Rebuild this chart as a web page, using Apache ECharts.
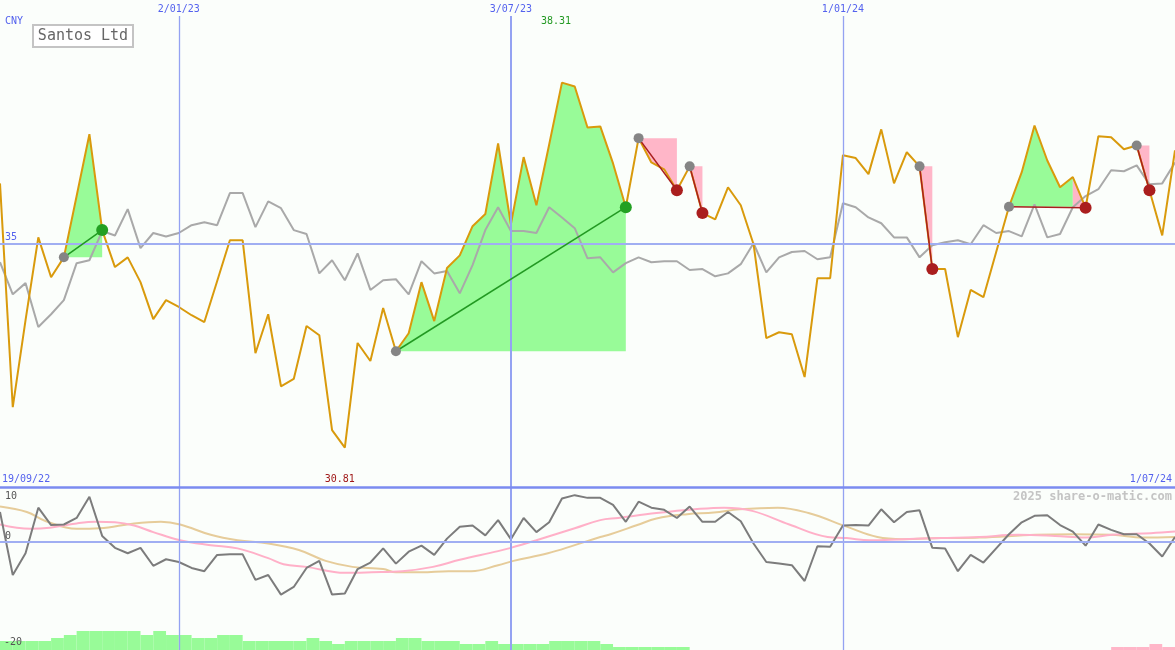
<!DOCTYPE html>
<html><head><meta charset="utf-8">
<script src="https://cdn.jsdelivr.net/npm/echarts@6/dist/echarts.min.js"></script>
<style>html,body{margin:0;padding:0;background:#fbfefb;}#c{width:1175px;height:650px;}</style>
</head><body><div id="c"></div>
<script>
// ---- data (weekly index 0..92) ----
const priceClose = [36.24,31.64,33.43,35.13,34.31,34.72,35.98,37.25,35.28,34.52,
 34.72,34.21,33.45,33.84,33.70,33.53,33.39,34.23,35.07,35.07,
 32.75,33.55,32.07,32.22,33.31,33.12,31.17,30.81,32.96,32.59,
 33.68,32.79,33.16,34.21,33.41,34.50,34.76,35.36,35.61,37.06,
 35.40,36.78,35.79,37.04,38.31,38.23,37.39,37.41,36.65,35.75,
 37.17,36.67,36.53,36.10,36.59,35.63,35.50,36.16,35.79,34.99,
 33.06,33.18,33.14,32.26,34.29,34.29,36.82,36.76,36.43,37.35,
 36.24,36.88,36.59,34.48,34.48,33.08,34.05,33.90,34.83,35.76,
 36.47,37.43,36.71,36.16,36.37,35.74,37.21,37.19,36.94,37.02,
 36.10,35.17,36.92];
const priceRel = [34.62,33.96,34.19,33.29,33.55,33.84,34.60,34.66,35.26,35.17,
 35.71,34.91,35.22,35.15,35.22,35.38,35.44,35.38,36.04,36.04,
 35.34,35.87,35.73,35.28,35.20,34.39,34.66,34.25,34.80,34.05,
 34.25,34.27,33.96,34.64,34.39,34.44,33.98,34.56,35.28,35.75,
 35.26,35.26,35.22,35.75,35.54,35.32,34.70,34.72,34.41,34.60,
 34.72,34.62,34.64,34.64,34.46,34.48,34.33,34.39,34.58,35.01,
 34.41,34.72,34.83,34.85,34.68,34.72,35.83,35.75,35.54,35.42,
 35.13,35.13,34.72,34.97,35.03,35.07,34.99,35.38,35.22,35.26,
 35.15,35.81,35.13,35.20,35.75,35.98,36.12,36.51,36.49,36.61,
 36.22,36.24,36.67];
const oscMomentum = [5.4,-6.2,-2.2,6.2,3.0,3.1,4.3,8.2,1.0,-1.2,
 -2.2,-1.2,-4.5,-3.3,-3.8,-4.9,-5.5,-2.5,-2.4,-2.4,
 -7.1,-6.2,-9.8,-8.4,-4.9,-3.6,-9.8,-9.6,-5.1,-3.9,
 -1.3,-4.1,-1.9,-0.8,-2.5,0.5,2.7,2.9,1.1,3.9,
 0.4,4.3,1.7,3.5,7.9,8.5,8.0,8.0,6.7,3.6,
 7.3,6.2,5.8,4.3,6.4,3.6,3.6,5.4,3.7,-0.4,
 -3.8,-4.1,-4.4,-7.3,-0.9,-1.0,2.9,3.0,2.9,5.9,
 3.5,5.4,5.7,-1.2,-1.3,-5.5,-2.5,-3.9,-1.3,1.3,
 3.5,4.7,4.8,3.0,1.8,-0.8,3.1,2.1,1.3,1.3,
 -0.4,-2.8,0.8];
const oscPink = [[0,3.1],[2.4,2.3],[3.9,2.5],[6.0,3.3],[7.5,3.6],[9.0,3.5],[10.5,2.9],[12.0,1.7],[14.1,0.2],[16.5,-0.7],[18.6,-1.3],[21.0,-3.1],[22.2,-4.2],[24.0,-4.7],[27.0,-5.8],[29.1,-5.7],[31.5,-5.5],[33.9,-4.7],[36.0,-3.4],[39.0,-1.8],[40.0,-1.2],[42.0,0.2],[45.0,2.4],[47.0,3.9],[48.4,4.3],[51.4,5.2],[54.4,5.9],[56.7,6.2],[58.9,5.6],[61.8,3.1],[64.8,0.8],[66.3,0.6],[68.1,0.2],[70.7,0.4],[73.7,0.6],[76.7,0.8],[79.7,1.2],[82.6,1.0],[85.0,0.7],[87.1,1.2],[90.1,1.5],[92,1.8]];
const oscTan = [[0,6.4],[2.1,5.4],[3.6,3.7],[6.0,2.3],[7.8,2.4],[10.5,3.3],[12.6,3.6],[14.1,3.1],[16.5,1.2],[18.6,0.2],[21.0,-0.4],[23.4,-1.6],[25.5,-3.6],[27.6,-4.7],[30.0,-5.1],[31.0,-5.7],[33.0,-5.7],[35.1,-5.5],[36.9,-5.5],[39.0,-4.4],[40.2,-3.6],[42.9,-2.2],[45.0,-0.7],[47.0,0.8],[47.8,1.3],[49.9,3.0],[51.4,4.2],[53.8,5.0],[55.9,5.3],[57.9,5.9],[60.9,6.2],[63.3,5.2],[66.3,2.7],[68.7,0.8],[70.7,0.4],[73.7,0.6],[76.7,0.7],[81.1,1.2],[84.1,1.3],[87.1,1.2],[89.5,0.7],[92,0.8]];
const histUp = [1.66,1.66,1.66,1.66,2.21,2.76,3.5,3.5,3.5,3.5,
 3.5,2.76,3.5,2.76,2.76,2.21,2.21,2.76,2.76,1.66,
 1.66,1.66,1.66,1.66,2.21,1.66,1.1,1.66,1.66,1.66,
 1.66,2.21,2.21,1.66,1.66,1.66,1.1,1.1,1.66,1.1,
 1.1,1.1,1.1,1.66,1.66,1.66,1.66,1.1,0.55,0.55,
 0.55,0.55,0.55,0.55,null,null,null,null,null,null,
 null,null,null,null,null,null,null,null,null,null,
 null,null,null,null,null,null,null,null,null,null,
 null,null,null,null,null,null,null,null,null,null,
 null,null];
const histDown = [null,null,null,null,null,null,null,null,null,null,
 null,null,null,null,null,null,null,null,null,null,
 null,null,null,null,null,null,null,null,null,null,
 null,null,null,null,null,null,null,null,null,null,
 null,null,null,null,null,null,null,null,null,null,
 null,null,null,null,null,null,null,null,null,null,
 null,null,null,null,null,null,null,null,null,null,
 null,null,null,null,null,null,null,null,null,null,
 null,null,null,null,null,null,null,0.55,0.55,0.55,
 1.1,0.55];
// trend segments: [startIdx, endIdx]
const trends = [[5,8],[31,49],[50,53],[54,55],[72,73],[79,85],[89,90]];
// shaded areas: [fromIdx, toIdx, baseIdx, kind]
const fills = [[5,8,5,'up'],[31,49,31,'up'],[50,53,50,'down'],[54,55,54,'down'],[72,73,72,'down'],[79,84,79,'up'],[84,85,79,'down'],[89,90,89,'down']];
const dateTickIdx = [14,40,66];
const dateTickLabels = ['2/01/23','3/07/23','1/01/24'];
const startLabel = '19/09/22', endLabel = '1/07/24';
const priceRefLine = 35;
const oscTicks = [10,0,-20];
const currency = 'CNY', title = 'Santos Ltd', credit = '2025 share-o-matic.com';

// ---- chart ----
const FONT = '"DejaVu Sans Mono","Liberation Mono",monospace';
const BLUE = '#5462ee';
const VLINE = '#94a2f2';
const N = priceClose.length;
const chart = echarts.init(document.getElementById('c'));
const idxData = arr => arr.map((v,i)=>[i,v]);
const ml = (data) => ({silent:true, symbol:['none','none'], animation:false, label:{show:false}, data});

const mainMarks = dateTickIdx.map((x,i)=>({xAxis:x, lineStyle:{color:VLINE, width: i===1?2:1.3, type:'solid'},
  label:{show:true, position:'end', distance:2, formatter:dateTickLabels[i], color:BLUE, fontFamily:FONT, fontSize:10}}));
mainMarks.push({yAxis:priceRefLine, lineStyle:{color:'#a0aef2', width:2, type:'solid'}});
const lowMarks = dateTickIdx.map((x,i)=>({xAxis:x, lineStyle:{color:VLINE, width: i===1?2:1.3, type:'solid'}}));
lowMarks.push({yAxis:0, lineStyle:{color:'#a0aef2', width:2, type:'solid'}});
lowMarks.push({yAxis:10, lineStyle:{color:'#7b8bf0', width:2.5, type:'solid'}});

chart.setOption({
  backgroundColor:'#fbfefb',
  animation:false,
  grid:[{left:0,right:0,top:16,height:471},{left:0,right:0,top:487,height:163}],
  xAxis:[
    {type:'value',gridIndex:0,min:0,max:N-1,show:false},
    {type:'value',gridIndex:1,min:0,max:N-1,show:false},
    {type:'category',gridIndex:1,data:histUp.map((_,i)=>i),show:false,boundaryGap:true}
  ],
  yAxis:[
    {type:'value',gridIndex:0,min:30,max:39.68,show:false},
    {type:'value',gridIndex:1,min:-20,max:10,show:false},
    {type:'value',gridIndex:1,min:0,max:30,show:false}
  ],
  series:[
    {type:'custom', xAxisIndex:0, yAxisIndex:0, z:1, silent:true, clip:false,
     data: fills.map(f=>[f[0], priceClose[f[2]]]),
     renderItem:function(params, api){
       const f = fills[params.dataIndex];
       const base = priceClose[f[2]];
       const pts = [api.coord([f[0], base])];
       for(let i=f[0]; i<=f[1]; i++) pts.push(api.coord([i, priceClose[i]]));
       pts.push(api.coord([f[1], base]));
       return {type:'polygon', shape:{points:pts}, style:{fill: f[3]==='up' ? '#98fb98' : '#ffb6c8'}};
     }},
    {type:'line', xAxisIndex:0, yAxisIndex:0, z:2, data:idxData(priceRel), symbol:'none', silent:true,
     lineStyle:{color:'#a9a9a9', width:2}},
    {type:'line', xAxisIndex:0, yAxisIndex:0, z:3, data:idxData(priceClose), symbol:'none', silent:true,
     lineStyle:{color:'#d99a0c', width:2}, markLine: ml(mainMarks)},
    {type:'custom', xAxisIndex:0, yAxisIndex:0, z:5, silent:true, clip:false,
     data: trends.map(t=>[t[0], priceClose[t[0]]]),
     renderItem:function(params, api){
       const t = trends[params.dataIndex];
       const p0 = api.coord([t[0], priceClose[t[0]]]);
       const p1 = api.coord([t[1], priceClose[t[1]]]);
       const up = priceClose[t[1]] > priceClose[t[0]];
       const col = up ? '#229922' : '#aa1e1e';
       return {type:'group', children:[
         {type:'line', shape:{x1:p0[0],y1:p0[1],x2:p1[0],y2:p1[1]}, style:{stroke:col, lineWidth:1.5}},
         {type:'circle', shape:{cx:p0[0],cy:p0[1],r:5}, style:{fill:'#858585'}},
         {type:'circle', shape:{cx:p1[0],cy:p1[1],r:6}, style:{fill: up ? '#22a022' : '#aa1e1e'}}
       ]};
     }},
    {type:'bar', xAxisIndex:2, yAxisIndex:2, data:histUp, barWidth:'100%', barGap:'-100%', silent:true, z:1,
     itemStyle:{color:'#98fb98'}},
    {type:'bar', xAxisIndex:2, yAxisIndex:2, data:histDown, barWidth:'100%', barGap:'-100%', silent:true, z:1,
     itemStyle:{color:'#ffb6c8'}},
    {type:'line', xAxisIndex:1, yAxisIndex:1, z:2, data:oscTan, smooth:0.4, symbol:'none', silent:true,
     lineStyle:{color:'#e6cc9a', width:2}},
    {type:'line', xAxisIndex:1, yAxisIndex:1, z:2, data:oscPink, smooth:0.4, symbol:'none', silent:true,
     lineStyle:{color:'#ffb0c8', width:2}},
    {type:'line', xAxisIndex:1, yAxisIndex:1, z:3, data:idxData(oscMomentum), symbol:'none', silent:true,
     lineStyle:{color:'#7c7c7c', width:2}, markLine: ml(lowMarks)}
  ]
});

// ---- texts ----
const xp = v => chart.convertToPixel({xAxisIndex:0}, v);
const yp = v => chart.convertToPixel({yAxisIndex:0}, v);
const yo = v => chart.convertToPixel({yAxisIndex:1}, v);
function txt(text, x, y, color, align, size, weight){
  return {type:'text', z:100, silent:true, x:x, y:y,
    style:{text:text, fill:color, font:(weight||'normal')+' '+(size||10)+'px '+FONT,
      textAlign:align||'left', align:align||'left', textVerticalAlign:'middle', verticalAlign:'middle'}};
}
let maxI = 0, minI = 0;
priceClose.forEach((v,i)=>{ if(v>priceClose[maxI]) maxI=i; if(v<priceClose[minI]) minI=i; });
const g = [];
g.push(txt(currency, 5, 21, BLUE));
g.push({type:'rect', z:99, silent:true, shape:{x:33,y:25,width:100,height:22},
  style:{fill:'#ffffff', stroke:'#c4c4c4', lineWidth:2}});
g.push(txt(title, 83, 36.5, '#666666', 'center', 15));
g.push(txt(priceClose[maxI].toFixed(2), xp(maxI)-6, 21.5, '#229922', 'center'));
g.push(txt(priceClose[minI].toFixed(2), xp(minI)-5, 479, '#a01818', 'center'));
g.push(txt(startLabel, 2, 479, BLUE));
g.push(txt(endLabel, 1172, 479, BLUE, 'right'));
g.push(txt(String(priceRefLine), 5, yp(priceRefLine)-6, BLUE));
g.push(txt(String(oscTicks[0]), 5, yo(oscTicks[0])+9, '#555555'));
g.push(txt(String(oscTicks[1]), 5, yo(oscTicks[1])-5, '#555555'));
g.push(txt(String(oscTicks[2]), 4, yo(oscTicks[2])-8, '#555555'));
g.push(txt(credit, 1172, 496.5, '#c4c4c4', 'right', 12, 'bold'));
chart.setOption({graphic:{elements:g}});
</script>
</body></html>
